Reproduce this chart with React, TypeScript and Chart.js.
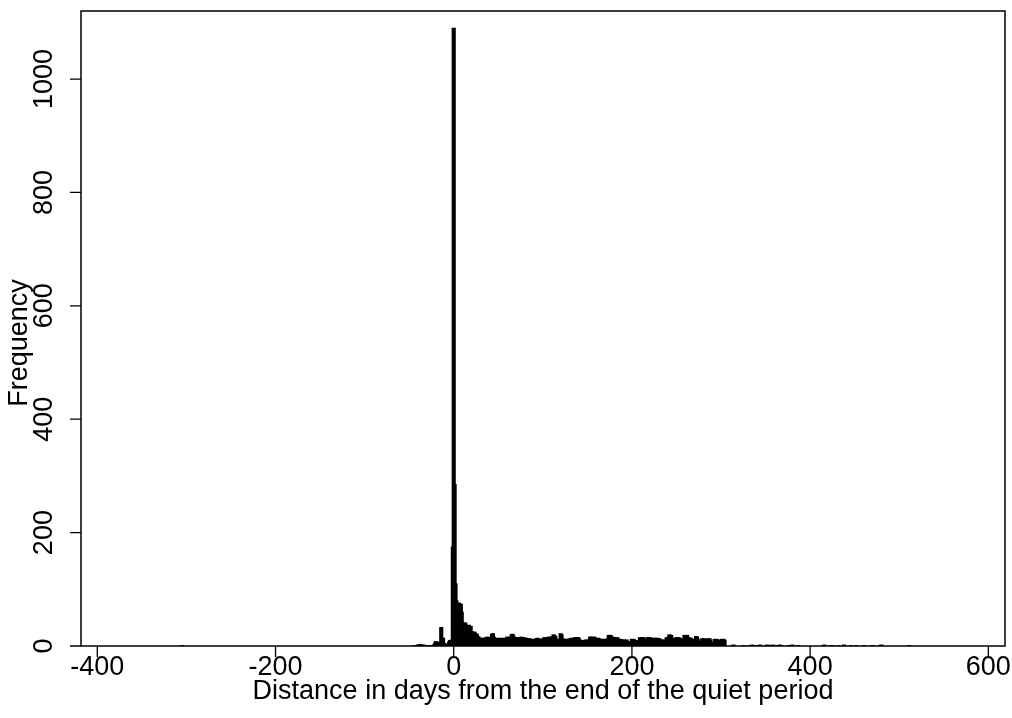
import { useEffect, useRef } from "react";
import { Chart, registerables } from "chart.js";

Chart.register(...registerables);

const FONT = '"Liberation Sans", Arial, Helvetica, sans-serif';

const xTickValues = [-400, -200, 0, 200, 400, 600];
const yTickValues = [0, 200, 400, 600, 800, 1000];
const xTitle = "Distance in days from the end of the quiet period";
const yTitle = "Frequency";

// days -45 .. -1
const earlyStartDay = -45;
const earlyFreq = [
  0, 0, 1, 0, 1, 2, 1, 3, 1, 2, 1, 2, 1, 1, 0, 0, 1, 0, 1, 0, 1, 0, 1, 2, 5,
  8, 4, 7, 3, 2, 4, 33, 6, 14, 5, 3, 2, 4, 2, 3, 8, 10, 6, 11, 175,
];

// days 0 .. 9
const peakStartDay = 0;
const peakFreq = [1090, 285, 110, 80, 75, 72, 76, 70, 74, 60];

// days 10 .. 304
const tailStartDay = 10;
const tailFreq = [
  42, 40, 38, 41, 36, 28, 25, 37, 30, 35,
  26, 22, 20, 25, 23, 19, 21, 17, 16, 14,
  14, 12, 13, 11, 14, 12, 15, 13, 16, 14,
  15, 13, 14, 21, 22, 16, 13, 12, 14, 11,
  13, 12, 14, 11, 13, 12, 14, 13, 11, 13,
  16, 14, 15, 13, 16, 20, 21, 18, 14, 15,
  13, 15, 14, 12, 15, 13, 16, 14, 12, 15,
  13, 14, 12, 13, 11, 13, 12, 11, 12, 10,
  12, 11, 12, 13, 14, 13, 12, 11, 12, 10,
  12, 14, 15, 13, 15, 14, 13, 16, 15, 16,
  14, 16, 20, 19, 17, 11, 12, 10, 12, 11,
  22, 20, 13, 11, 12, 10, 12, 11, 12, 10,
  13, 12, 14, 12, 13, 11, 15, 14, 15, 13,
  15, 12, 9, 8, 10, 9, 8, 10, 11, 9,
  10, 11, 9, 16, 14, 16, 15, 13, 16, 12,
  13, 12, 14, 13, 11, 12, 12, 10, 11, 12,
  10, 12, 11, 13, 19, 18, 19, 17, 14, 15,
  14, 15, 13, 15, 14, 12, 11, 12, 10, 11,
  10, 11, 9, 10, 11, 8, 7, 6, 8, 7,
  12, 11, 12, 10, 9, 8, 9, 10, 9, 15,
  14, 15, 13, 15, 12, 11, 12, 11, 15, 14,
  15, 13, 14, 12, 13, 14, 12, 13, 14, 13,
  12, 13, 10, 9, 11, 10, 9, 11, 10, 15,
  14, 13, 20, 18, 19, 13, 12, 14, 13, 12,
  15, 14, 15, 13, 14, 12, 11, 12, 11, 19,
  17, 18, 19, 14, 15, 13, 14, 12, 11, 12,
  11, 12, 17, 16, 12, 7, 6, 8, 7, 13,
  12, 13, 11, 10, 9, 13, 12, 13, 11, 6,
  5, 6, 5, 12, 11, 12, 10, 11, 6, 5,
  6, 12, 11, 12, 10,
];

// isolated days with few events
const sparseDays = [
  -305, 313, 314, 325, 332, 335, 341, 343, 344, 350, 352, 355, 357, 358, 360,
  363, 366, 367, 376, 378, 380, 386, 415, 416, 423, 425, 432, 438, 446, 452,
  461, 470, 479, 480, 511,
];
const sparseFreq = [
  1, 1, 2, 1, 1, 2, 1, 1, 2, 1, 2, 1, 1, 2, 1,
  1, 2, 1, 1, 1, 2, 1, 1, 2, 1, 1, 1, 2, 1, 1,
  1, 1, 1, 2, 1,
];

const X_MIN = -418.3;
const X_MAX = 618.7;
const Y_MIN = 0;
const Y_MAX = 1120;

function buildPoints() {
  const pts: { x: number; y: number }[] = [];
  earlyFreq.forEach((v, i) => pts.push({ x: earlyStartDay + i, y: v }));
  peakFreq.forEach((v, i) => pts.push({ x: peakStartDay + i, y: v }));
  tailFreq.forEach((v, i) => pts.push({ x: tailStartDay + i, y: v }));
  sparseDays.forEach((d, i) => pts.push({ x: d, y: sparseFreq[i] }));
  return pts;
}

const framePlugin = {
  id: "rframe",
  afterDraw(chart: any) {
    const { ctx, chartArea } = chart;
    const xs = chart.scales.x;
    const ys = chart.scales.y;
    const { left, right, top, bottom } = chartArea;
    ctx.save();
    ctx.strokeStyle = "#000";
    ctx.lineWidth = 1.5;
    ctx.strokeRect(left, top, right - left, bottom - top);

    const tick = 11;
    ctx.lineWidth = 1.3;
    ctx.beginPath();
    xTickValues.forEach((v) => {
      const px = xs.getPixelForValue(v);
      ctx.moveTo(px, bottom);
      ctx.lineTo(px, bottom + tick);
    });
    yTickValues.forEach((v) => {
      const py = ys.getPixelForValue(v);
      ctx.moveTo(left, py);
      ctx.lineTo(left - tick, py);
    });
    ctx.stroke();

    ctx.fillStyle = "#000";
    ctx.font = `27px ${FONT}`;
    ctx.textAlign = "center";
    ctx.textBaseline = "middle";
    xTickValues.forEach((v) => {
      ctx.fillText(String(v), xs.getPixelForValue(v), 668);
    });
    ctx.fillText(xTitle, (left + right) / 2, 692);

    yTickValues.forEach((v) => {
      ctx.save();
      ctx.translate(45, ys.getPixelForValue(v));
      ctx.rotate(-Math.PI / 2);
      ctx.fillText(String(v), 0, 0);
      ctx.restore();
    });
    ctx.save();
    ctx.translate(20, 343);
    ctx.rotate(-Math.PI / 2);
    ctx.fillText(yTitle, 0, 0);
    ctx.restore();
    ctx.restore();
  },
};

export default function App() {
  const ref = useRef<HTMLCanvasElement | null>(null);
  useEffect(() => {
    if (!ref.current) return;
    const chart = new Chart(ref.current, {
      type: "bar",
      data: {
        datasets: [
          {
            data: buildPoints(),
            backgroundColor: "#000",
            borderWidth: 0,
            barThickness: 3.5,
          } as any,
        ],
      },
      options: {
        animation: false,
        responsive: false,
        maintainAspectRatio: false,
        layout: { padding: { left: 81, top: 11, right: 7, bottom: 72 } },
        plugins: { legend: { display: false }, tooltip: { enabled: false } },
        scales: {
          x: {
            type: "linear",
            min: X_MIN,
            max: X_MAX,
            offset: false,
            grid: { offset: false },
            display: false,
          },
          y: { type: "linear", min: Y_MIN, max: Y_MAX, display: false },
        },
      },
      plugins: [framePlugin],
    });
    return () => chart.destroy();
  }, []);
  return (
    <div style={{ position: "fixed", left: 0, top: 0, width: 1012, height: 718, background: "#fff" }}>
      <canvas ref={ref} width={1012} height={718} style={{ width: 1012, height: 718 }} />
    </div>
  );
}
